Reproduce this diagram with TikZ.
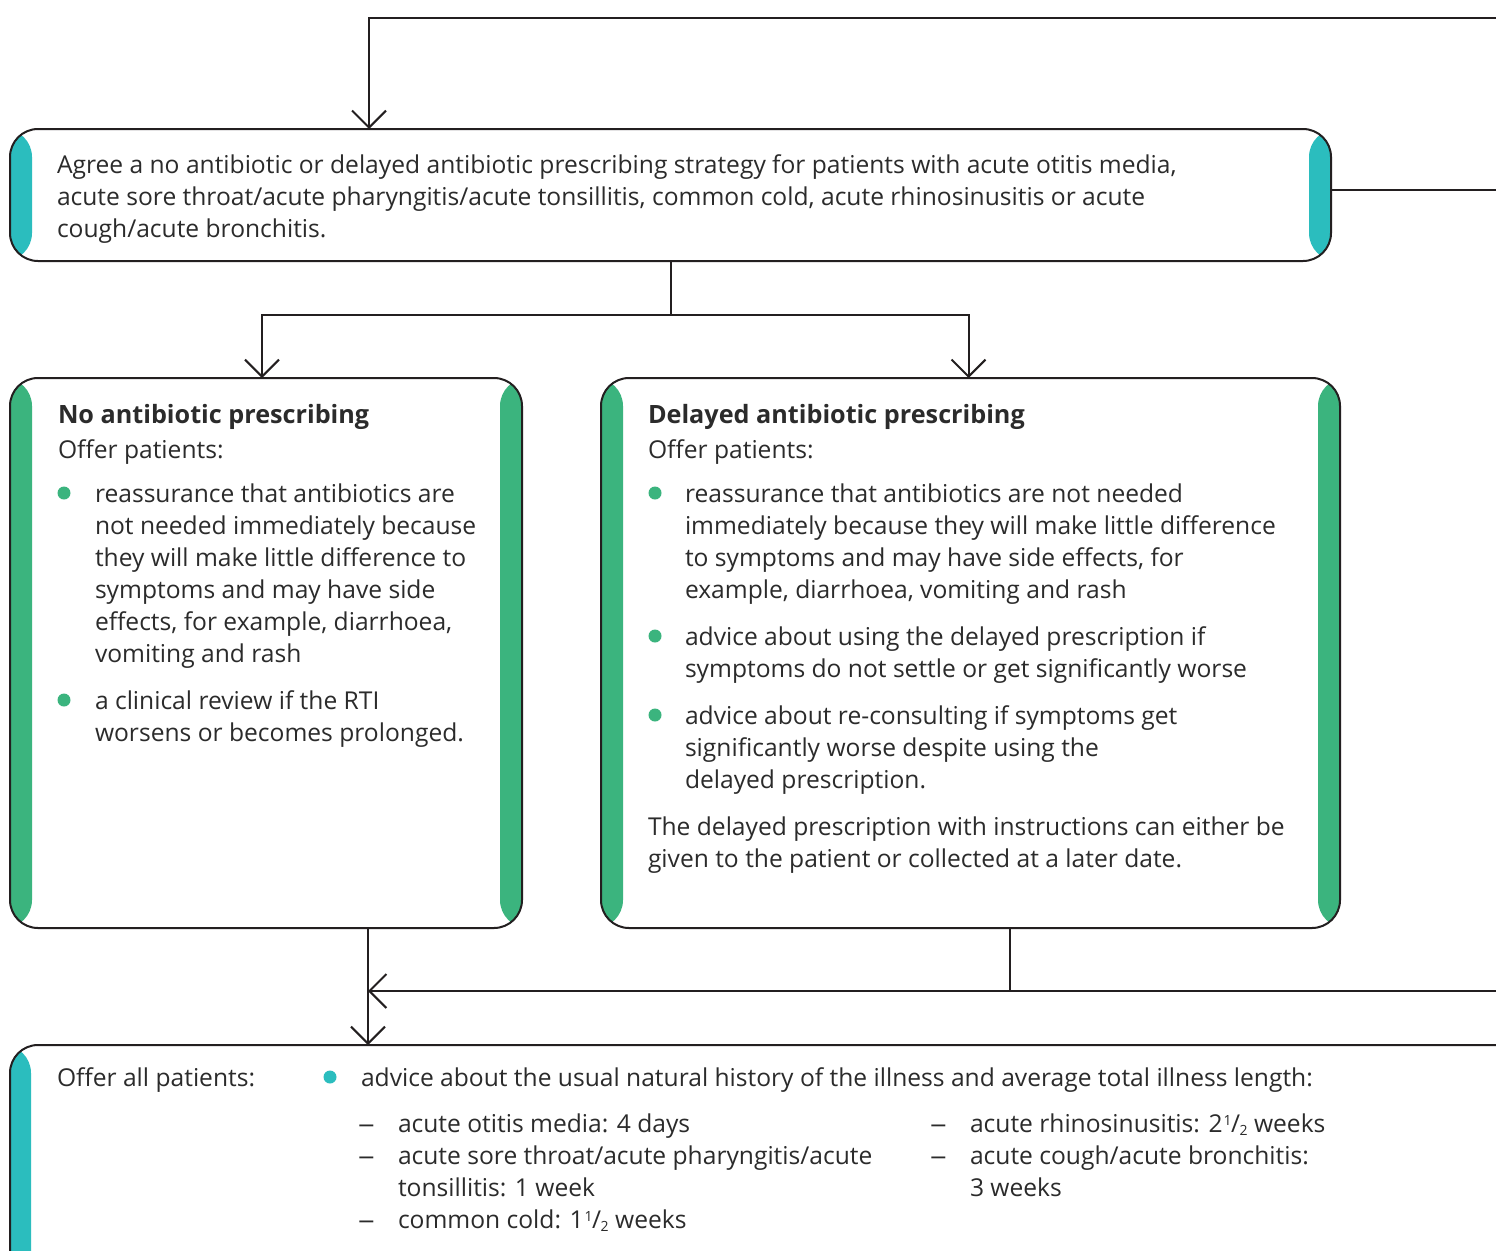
\documentclass[tikz,border=0pt]{standalone}
\usepackage{fontspec}
\setmainfont{Open Sans}
\usetikzlibrary{arrows.meta,calc}
\definecolor{tealband}{HTML}{2BBDBE}
\definecolor{greenband}{HTML}{3BB47E}
\definecolor{ink}{HTML}{2B2B2B}
\definecolor{linec}{HTML}{231F20}
\newcounter{tlc}
\newcommand\txtline[3]{\stepcounter{tlc}\node[txt] (t\arabic{tlc}) at (#1,#2) {#3};}
\newcommand\bulletdot[3]{\fill[#3] (#1,#2) circle (6.5);}
\newcommand\halfsym[1]{#1\kern1pt\raisebox{7pt}{\fontsize{14}{14}\selectfont 1}\kern-0.5pt/\kern-0.5pt\raisebox{-3pt}{\fontsize{14}{14}\selectfont 2}}
\newcommand\listdash{\scalebox{1.35}[1]{–}}
\newcommand\headfont{\fontsize{25.2}{32}\selectfont\bfseries}
\tikzset{
  txt/.style={anchor=base west, inner sep=0pt, outer sep=0pt, text=ink,
    font=\fontsize{24.6}{32}\selectfont},
  bandbox/.style 2 args={draw=linec, line width=2pt, rounded corners=28pt,
    inner sep=0pt, outer sep=0pt, anchor=north west, fill=white,
    path picture={
      \fill[#1] (path picture bounding box.north west) rectangle
        ([xshift=#2]path picture bounding box.south west);
      \fill[#1] ([xshift=-#2]path picture bounding box.north east) rectangle
        (path picture bounding box.south east);
    }},
  conn/.style={draw=linec, line width=2pt},
  arr/.style={conn, -{Straight Barb[length=17pt,width=34pt,line width=2pt]}},
}
\begin{document}
\begin{tikzpicture}[x=1pt,y=-1pt]
\useasboundingbox (0,0) rectangle (1496,1250);
\clip (0,0) rectangle (1496,1250);
\fill[white] (0,0) rectangle (1496,1250);

% boxes
\node[bandbox={tealband}{22pt}, minimum width=1321pt, minimum height=132pt] (top) at (10,129) {};
\node[bandbox={greenband}{22pt}, minimum width=512pt, minimum height=550pt] (left) at (10,378) {};
\node[bandbox={greenband}{22pt}, minimum width=739pt, minimum height=550pt] (right) at (601,378) {};
\node[bandbox={tealband}{21pt}, minimum width=1600pt, minimum height=260pt] (bottom) at (10,1045) {};

% free ends off the right edge
\coordinate (e1) at (1510,18);
\coordinate (e2) at (1510,190);
\coordinate (e3) at (1510,991);

% connectors
\draw[arr] (e1) -| ([xshift=359pt]top.north west);
\draw[conn] ([yshift=5pt]top.east) -- (e2);
\draw[arr] (top.south) -- ++(0,54) -| ([xshift=-4pt]left.north);
\draw[arr] (top.south) -- ++(0,54) -| ([xshift=-2pt]right.north);
\coordinate (ls) at ([xshift=102pt]left.south);
\draw[arr] (ls) -- (ls |- bottom.north);
\coordinate (rs) at ([xshift=39.5pt]right.south);
\draw[conn] (rs) -- (rs |- e3);
\draw[arr] (e3) -- (ls |- e3);

% top box text
\txtline{57}{173}{Agree a no antibiotic or delayed antibiotic prescribing strategy for patients with acute otitis media,}
\txtline{57}{205}{acute sore throat/acute pharyngitis/acute tonsillitis, common cold, acute rhinosinusitis or acute}
\txtline{57}{237}{cough/acute bronchitis.}

% left box text
\txtline{58}{423}{\headfont No antibiotic prescribing}
\txtline{58}{458}{Offer patients:}
\bulletdot{64}{493}{greenband}
\txtline{95}{502}{reassurance that antibiotics are}
\txtline{95}{534}{not needed immediately because}
\txtline{95}{566}{they will make little difference to}
\txtline{95}{598}{symptoms and may have side}
\txtline{95}{630}{effects, for example, diarrhoea,}
\txtline{95}{662}{vomiting and rash}
\bulletdot{64}{700}{greenband}
\txtline{95}{709}{a clinical review if the RTI}
\txtline{95}{741}{worsens or becomes prolonged.}

% right box text
\txtline{648}{423}{\headfont Delayed antibiotic prescribing}
\txtline{648}{458}{Offer patients:}
\bulletdot{655}{493}{greenband}
\txtline{685}{502}{reassurance that antibiotics are not needed}
\txtline{685}{534}{immediately because they will make little difference}
\txtline{685}{566}{to symptoms and may have side effects, for}
\txtline{685}{598}{example, diarrhoea, vomiting and rash}
\bulletdot{655}{636}{greenband}
\txtline{685}{645}{advice about using the delayed prescription if}
\txtline{685}{677}{symptoms do not settle or get significantly worse}
\bulletdot{655}{715}{greenband}
\txtline{685}{724}{advice about re-consulting if symptoms get}
\txtline{685}{756}{significantly worse despite using the}
\txtline{685}{788}{delayed prescription.}
\txtline{648}{835}{The delayed prescription with instructions can either be}
\txtline{648}{867}{given to the patient or collected at a later date.}

% bottom box text
\txtline{57}{1086}{Offer all patients:}
\bulletdot{330}{1077}{tealband}
\txtline{361}{1086}{advice about the usual natural history of the illness and average total illness length:}
\txtline{358}{1132}{\listdash}
\txtline{398}{1132}{acute otitis media: 4 days}
\txtline{358}{1164}{\listdash}
\txtline{398}{1164}{acute sore throat/acute pharyngitis/acute}
\txtline{398}{1196}{tonsillitis: 1 week}
\txtline{358}{1228}{\listdash}
\txtline{398}{1228}{common cold: \halfsym{1} weeks}
\txtline{930}{1132}{\listdash}
\txtline{970}{1132}{acute rhinosinusitis: \halfsym{2} weeks}
\txtline{930}{1164}{\listdash}
\txtline{970}{1164}{acute cough/acute bronchitis:}
\txtline{970}{1196}{3 weeks}
\end{tikzpicture}
\end{document}
